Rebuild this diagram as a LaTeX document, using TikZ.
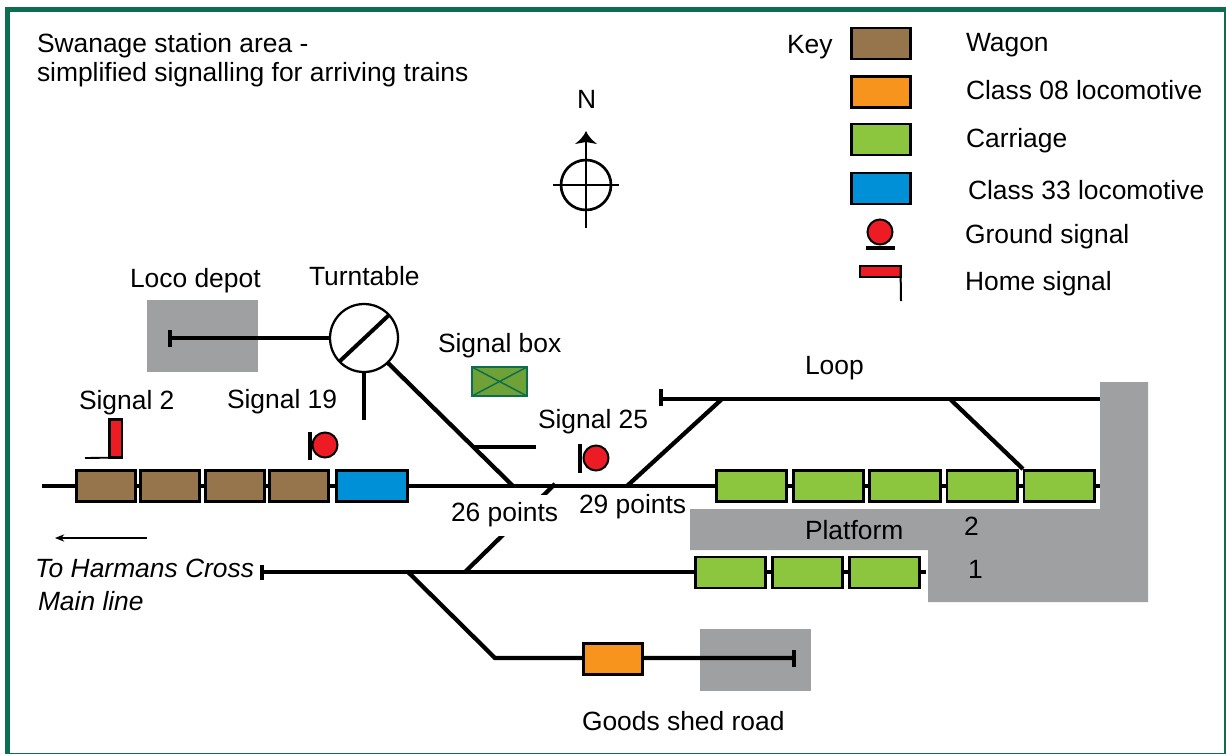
\documentclass[tikz,border=0pt]{standalone}
\usepackage{fontspec}
\setmainfont{Liberation Sans}
\usetikzlibrary{arrows.meta}
\definecolor{wagonc}{HTML}{97754C}
\definecolor{shuntc}{HTML}{F7941E}
\definecolor{carrc}{HTML}{8CC63F}
\definecolor{loco}{HTML}{0090D7}
\definecolor{sigred}{HTML}{ED1C24}
\definecolor{shed}{HTML}{9FA0A2}
\definecolor{frame}{HTML}{0B6E4F}
\definecolor{boxfill}{HTML}{6FA136}
\tikzset{
  lab/.style={anchor=base west,inner sep=0pt,xshift=-0.2pt,font=\fontsize{19.8pt}{24pt}\selectfont},
  veh/.style={draw=black,line width=1.9pt,inner sep=0pt,outer sep=0pt,minimum height=31*0.75pt},
  wagonbox/.style={veh,fill=wagonc,minimum width=59.5*0.75pt},
  shuntbox/.style={veh,fill=shuntc,minimum width=59*0.75pt},
  locobox/.style={veh,fill=loco,minimum width=71.5*0.75pt},
  carrbox/.style={veh,fill=carrc,minimum width=70.5*0.75pt},
  keybox/.style={veh,minimum width=59.5*0.75pt},
  lamp/.style={circle,draw=black,line width=1.5pt,fill=sigred,inner sep=0pt,outer sep=0pt,minimum size=25*0.75pt},
  track/.style={draw=black,line width=3.2pt},
  stopbar/.style={draw=black,line width=2.6pt},
  shedarea/.style={fill=shed,draw=none},
}
\begin{document}
\begin{tikzpicture}[x=0.75pt,y=-0.75pt]
\useasboundingbox (0,0) rectangle (1226,754);
\fill[white] (0,0) rectangle (1226,754);
% frame
\fill[frame] (5,7) rectangle (1226,754);
\fill[white] (10,12) rectangle (1224,753);
% buildings and platform
\fill[shedarea] (147,300) rectangle (258,372);
\fill[shedarea] (700,629) rectangle (811,691);
\fill[shedarea] (1100,382) -- (1148,382) -- (1148,602) -- (928,602) -- (928,550) -- (690,550) -- (690,509) -- (1100,509) -- cycle;
% named way points
\coordinate (mainW) at (42,486);
\coordinate (mainE) at (1100,486);
\coordinate (depotEnd) at (170,338);
\coordinate (loopEnd) at (662,399);
\coordinate (loopE) at (1100,399);
\coordinate (loopJ1) at (722,399);
\coordinate (loopJ2) at (950,399);
\coordinate (mlEnd) at (262,572);
\coordinate (mlE) at (926,572);
\coordinate (mlJ1) at (408,572);
\coordinate (mlJ2) at (465,572);
\coordinate (gsBend) at (495,658);
\coordinate (gsEnd) at (794,658);
\coordinate (ttStub) at (364,420);
\coordinate (ttDiag) at (388,363);
\coordinate (pt26) at (513,486);
\coordinate (pt26b) at (555,484);
\coordinate (pt29) at (627,486);
\coordinate (spurA) at (473,447);
\coordinate (spurB) at (536,447);
\coordinate (loopDown) at (1023,469);
% tracks
\draw[track] (mainW) -- (mainE);
\draw[track] (depotEnd) -- (329,338);
\draw[track] (loopEnd) -- (loopE);
\draw[track] (mlEnd) -- (mlE);
\draw[track] (mlJ1) -- (gsBend) -- (gsEnd);
\draw[track] (ttStub) -- (364,372);
\draw[track] (ttDiag) -- (pt26);
\draw[track] (spurA) -- (spurB);
\draw[track] (mlJ2) -- (pt26b);
\draw[track] (loopJ1) -- (pt29);
\draw[track] (loopJ2) -- (loopDown);
% stop bars
\draw[stopbar] (170,330) -- (170,347);
\draw[stopbar,line width=3pt] (661,389) -- (661,406);
\draw[stopbar] (262,565) -- (262,580);
\draw[stopbar] (794,650) -- (794,667);
% turntable
\node[circle,draw=black,line width=1.7pt,fill=white,minimum size=68*0.75pt,inner sep=0pt,outer sep=0pt] (tt) at (364,338) {};
\draw[line width=3pt] (340,361) -- (389,315);
% vehicles
\node[wagonbox] (w1) at (106,486) {};
\node[wagonbox] (w2) at (170,486) {};
\node[wagonbox] (w3) at (235,486) {};
\node[wagonbox] (w4) at (299,486) {};
\node[locobox] (l33) at (372,486) {};
\node[carrbox] (c1) at (751.5,486) {};
\node[carrbox] (c2) at (828.5,486) {};
\node[carrbox] (c3) at (905,486) {};
\node[carrbox] (c4) at (982,486) {};
\node[carrbox] (c5) at (1059,486) {};
\node[carrbox] (c6) at (730.5,572.5) {};
\node[carrbox] (c7) at (807.5,572.5) {};
\node[carrbox] (c8) at (884.5,572.5) {};
\node[shuntbox] (s08) at (613,659) {};
% signals
\node[draw=black,line width=1.6pt,fill=sigred,minimum width=12.5*0.75pt,minimum height=38*0.75pt,inner sep=0pt,outer sep=0pt] (sig2) at (115.7,438.5) {};
\draw[line width=1.4pt] (85,458) -- (sig2.south east);
\node[lamp] (sig19) at (325,445) {};
\draw[line width=2.8pt] (310,432) -- (310,460);
\node[lamp] (sig25) at (596,458) {};
\draw[line width=2.8pt] (580,444) -- (580,473);
% signal box
\node[draw=frame,line width=1.4pt,fill=boxfill,minimum width=55*0.75pt,minimum height=29*0.75pt,inner sep=0pt,outer sep=0pt] (sb) at (499.5,381.5) {};
\draw[frame,line width=1.1pt] (sb.north west) -- (sb.south east) (sb.south west) -- (sb.north east);
% compass
\node[circle,draw=black,line width=2pt,minimum size=50*0.75pt,inner sep=0pt,outer sep=0pt] (cp) at (586,185) {};
\draw[line width=1.7pt] (553,185) -- (619,185);
\draw[line width=1.7pt] (586,228) -- (586,140);
\fill (586,131) .. controls (588,136) and (592,140) .. (597,144) -- (586,142) -- (575,144) .. controls (580,140) and (584,136) .. (586,131) -- cycle;
\node[lab] (north) at (577,108) {N};
% arrow to Harmans
\coordinate (arrA) at (147,538);
\coordinate (arrB) at (55,538);
\draw[line width=0.8pt,-{Stealth[length=7pt,width=5.5pt]}] (arrA) -- (arrB);
% labels over lines
\node[fill=white,inner sep=0pt,minimum width=112*0.75pt,minimum height=41*0.75pt] (lab26box) at (505,515.5) {};
\node[lab] (t26) at (451,521.5) {26 points};
\node[lab] (t29) at (579,513) {29 points};
\node[lab] (t1a) at (37,52) {Swanage station area -};
\node[lab] (t1b) at (37,81) {simplified signalling for arriving trains};
\node[lab] (tkey) at (787,53) {Key};
\node[keybox,fill=wagonc] (k1) at (881,43.5) {};
\node[keybox,fill=shuntc] (k2) at (881,92) {};
\node[keybox,fill=carrc] (k3) at (881,139.5) {};
\node[keybox,fill=loco] (k4) at (881,188.5) {};
\node[lab] at (966,51) {Wagon};
\node[lab] at (966,99) {Class 08 locomotive};
\node[lab] at (966,147) {Carriage};
\node[lab] at (968,199) {Class 33 locomotive};
\node[lab] at (965,243.5) {Ground signal};
\node[lab] at (965,290) {Home signal};
\node[lamp] (kg) at (880,232) {};
\draw[line width=2.8pt] (866,248) -- (895,248);
\node[draw=black,line width=1.5pt,fill=sigred,minimum width=41*0.75pt,minimum height=11*0.75pt,inner sep=0pt,outer sep=0pt] (kh) at (880,271.5) {};
\draw[line width=1.5pt] (kh.north east) -- (901,301);
\node[lab] at (130,287) {Loco depot};
\node[lab] at (309,285) {Turntable};
\node[lab] at (438,352) {Signal box};
\node[lab] at (79,409) {Signal 2};
\node[lab] at (227,408) {Signal 19};
\node[lab] at (538,428) {Signal 25};
\node[lab] at (805,374) {Loop};
\node[lab] at (805,539) {Platform};
\node[lab] at (964,535) {2};
\node[lab] at (968,578) {1};
\node[lab] at (582,730) {Goods shed road};
\node[lab,font=\fontsize{19.8pt}{24pt}\selectfont\itshape] at (35,577) {To Harmans Cross};
\node[lab,font=\fontsize{19.8pt}{24pt}\selectfont\itshape] at (38,610) {Main line};
\end{tikzpicture}
\end{document}
